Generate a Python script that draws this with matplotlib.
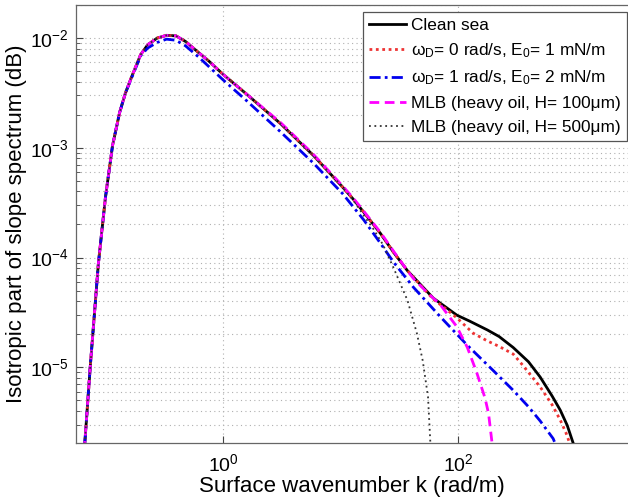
import matplotlib
matplotlib.use("Agg")
import matplotlib.pyplot as plt
import numpy as np
from matplotlib.ticker import LogLocator, NullLocator

plt.rcParams["font.family"] = ["Liberation Sans", "DejaVu Sans"]
plt.rcParams["mathtext.fontset"] = "custom"
plt.rcParams["mathtext.rm"] = "Liberation Sans"
plt.rcParams["mathtext.it"] = "Liberation Sans:italic"

# values, as log10(k) and log10(S)
logk_clean = [-1.19, -1.13, -1.06, -1.00, -0.94, -0.88, -0.83, -0.78, -0.70, -0.64, -0.56, -0.48,
              -0.40, -0.32, -0.21, -0.12, 0.00, 0.20, 0.49, 0.77, 1.02, 1.11, 1.20, 1.34, 1.45,
              1.57, 1.68, 1.79, 1.90, 1.99, 2.10, 2.25, 2.35, 2.47, 2.60, 2.70, 2.80, 2.87, 2.93,
              2.98, 3.02]
logS_clean = [-5.90, -5.00, -4.05, -3.45, -2.98, -2.68, -2.50, -2.36, -2.15, -2.06, -2.00, -1.975,
              -1.98, -2.03, -2.13, -2.21, -2.33, -2.51, -2.78, -3.07, -3.36, -3.47, -3.59, -3.78,
              -3.95, -4.12, -4.245, -4.37, -4.455, -4.525, -4.58, -4.66, -4.72, -4.82, -4.95,
              -5.09, -5.26, -5.39, -5.53, -5.69, -5.85]

logk_red = [-1.19, -1.13, -1.06, -1.00, -0.94, -0.88, -0.83, -0.78, -0.70, -0.64, -0.56, -0.48,
            -0.40, -0.32, -0.21, -0.12, 0.00, 0.20, 0.49, 0.77, 1.02, 1.11, 1.20, 1.34, 1.45,
            1.57, 1.68, 1.79, 1.90, 1.99, 2.13, 2.25, 2.35, 2.47, 2.55, 2.70, 2.80, 2.87, 2.92,
            2.95, 2.98]
logS_red = [-5.90, -5.00, -4.05, -3.45, -2.98, -2.68, -2.50, -2.36, -2.15, -2.06, -2.00, -1.975,
            -1.98, -2.03, -2.13, -2.21, -2.33, -2.51, -2.78, -3.07, -3.36, -3.47, -3.59, -3.78,
            -3.95, -4.12, -4.25, -4.38, -4.47, -4.55, -4.69, -4.76, -4.81, -4.88, -4.98, -5.18,
            -5.34, -5.48, -5.60, -5.69, -5.85]

logk_blue = [-1.19, -1.13, -1.06, -1.00, -0.94, -0.88, -0.83, -0.78, -0.70, -0.64, -0.56, -0.48,
             -0.40, -0.32, -0.21, -0.12, 0.00, 0.20, 0.49, 0.77, 1.02, 1.11, 1.20, 1.34, 1.45,
             1.62, 1.85, 2.08, 2.30, 2.47, 2.60, 2.70, 2.81, 2.86]
logS_blue = [-5.90, -5.00, -4.05, -3.45, -2.98, -2.68, -2.50, -2.37, -2.16, -2.09, -2.04, -2.01,
             -2.02, -2.07, -2.17, -2.26, -2.38, -2.57, -2.855, -3.14, -3.42, -3.54, -3.66, -3.87,
             -4.04, -4.27, -4.54, -4.80, -5.03, -5.21, -5.36, -5.49, -5.65, -5.78]

logk_mlb100 = [-1.19, -1.13, -1.06, -1.00, -0.94, -0.88, -0.83, -0.78, -0.70, -0.64, -0.56, -0.48,
               -0.40, -0.32, -0.21, -0.12, 0.00, 0.20, 0.49, 0.77, 1.02, 1.11, 1.20, 1.34, 1.45,
               1.57, 1.62, 1.73, 1.85, 1.99, 2.08, 2.16, 2.23, 2.26, 2.29, 2.30]
logS_mlb100 = [-5.90, -5.00, -4.05, -3.45, -2.98, -2.68, -2.50, -2.36, -2.15, -2.06, -2.00, -1.975,
               -1.98, -2.03, -2.13, -2.21, -2.33, -2.51, -2.77, -3.06, -3.35, -3.46, -3.58, -3.77,
               -3.94, -4.12, -4.19, -4.31, -4.43, -4.63, -4.82, -5.05, -5.28, -5.42, -5.69, -5.85]

logk_mlb500 = [-1.19, -1.13, -1.06, -1.00, -0.94, -0.88, -0.83, -0.78, -0.70, -0.64, -0.56, -0.48,
               -0.40, -0.32, -0.21, -0.12, 0.00, 0.20, 0.49, 0.77, 1.02, 1.11, 1.20, 1.28, 1.36,
               1.45, 1.57, 1.65, 1.70, 1.745, 1.765, 1.775]
logS_mlb500 = [-5.90, -5.00, -4.05, -3.45, -2.98, -2.68, -2.50, -2.36, -2.15, -2.06, -2.00, -1.975,
               -1.98, -2.03, -2.13, -2.21, -2.33, -2.51, -2.78, -3.07, -3.36, -3.48, -3.62, -3.74,
               -3.88, -4.09, -4.39, -4.69, -4.94, -5.27, -5.69, -5.90]

labels = ["Clean sea",
          "\u03c9$_\\mathregular{D}$= 0 rad/s, E$_\\mathregular{0}$= 1 mN/m",
          "\u03c9$_\\mathregular{D}$= 1 rad/s, E$_\\mathregular{0}$= 2 mN/m",
          "MLB (heavy oil, H= 100\u03bcm)",
          "MLB (heavy oil, H= 500\u03bcm)"]

fig = plt.figure(figsize=(6.28, 5.04), dpi=100)
ax = fig.add_axes([0.121, 0.121, 0.879, 0.869])

ax.plot(10 ** np.array(logk_clean), 10 ** np.array(logS_clean), color="black", lw=2.0,
        label=labels[0], zorder=3)
ax.plot(10 ** np.array(logk_red), 10 ** np.array(logS_red), color="#ee3333", lw=2.0,
        linestyle=(0, (1, 1.3)), label=labels[1], zorder=4)
ax.plot(10 ** np.array(logk_blue), 10 ** np.array(logS_blue), color="#0000ee", lw=2.0,
        linestyle=(0, (4, 1.5, 1, 1.5)), label=labels[2], zorder=4)
ax.plot(10 ** np.array(logk_mlb100), 10 ** np.array(logS_mlb100), color="#ff00ff", lw=2.0,
        linestyle=(0, (3.5, 2)), label=labels[3], zorder=5)
ax.plot(10 ** np.array(logk_mlb500), 10 ** np.array(logS_mlb500), color="#333333", lw=1.3,
        linestyle=(0, (1, 2)), label=labels[4], zorder=5)

ax.set_xscale("log")
ax.set_yscale("log")
ax.set_xlim(10 ** -1.251, 10 ** 3.447)
ax.set_ylim(2.04e-6, 2.0e-2)

ax.set_xticks([1, 100])
ax.xaxis.set_minor_locator(NullLocator())
ax.yaxis.set_major_locator(LogLocator(base=10, numticks=10))
ax.yaxis.set_minor_locator(LogLocator(base=10, subs=np.arange(2, 10), numticks=20))

ax.grid(True, which="major", axis="both", color="#b0b0b0", linestyle=(0, (1, 3)), lw=0.8)
ax.grid(True, which="minor", axis="y", color="#b0b0b0", linestyle=(0, (1, 3)), lw=0.8)

ax.tick_params(axis="both", which="both", direction="in", labelsize=14, colors="#444444",
               labelcolor="black")
ax.tick_params(axis="both", which="major", length=5)
ax.tick_params(axis="both", which="minor", length=3)
ax.tick_params(axis="x", pad=7)
ax.tick_params(axis="y", pad=5)

for s in ["left", "bottom", "top"]:
    ax.spines[s].set_color("#666666")
    ax.spines[s].set_linewidth(0.9)
ax.spines["right"].set_visible(False)

ax.set_xlabel("Surface wavenumber k (rad/m)", fontsize=16, labelpad=1)
ax.set_ylabel("Isotropic part of slope spectrum (dB)", fontsize=16, labelpad=2)

leg = ax.legend(loc="upper right", bbox_to_anchor=(0.998, 0.985), borderaxespad=0,
                fontsize=12.4, handlelength=2.15, handletextpad=0.3, labelspacing=0.5,
                fancybox=False, framealpha=1, borderpad=0.35)
leg.get_frame().set_edgecolor("#555555")
leg.get_frame().set_linewidth(0.9)

fig.savefig("out.png", dpi=100)
